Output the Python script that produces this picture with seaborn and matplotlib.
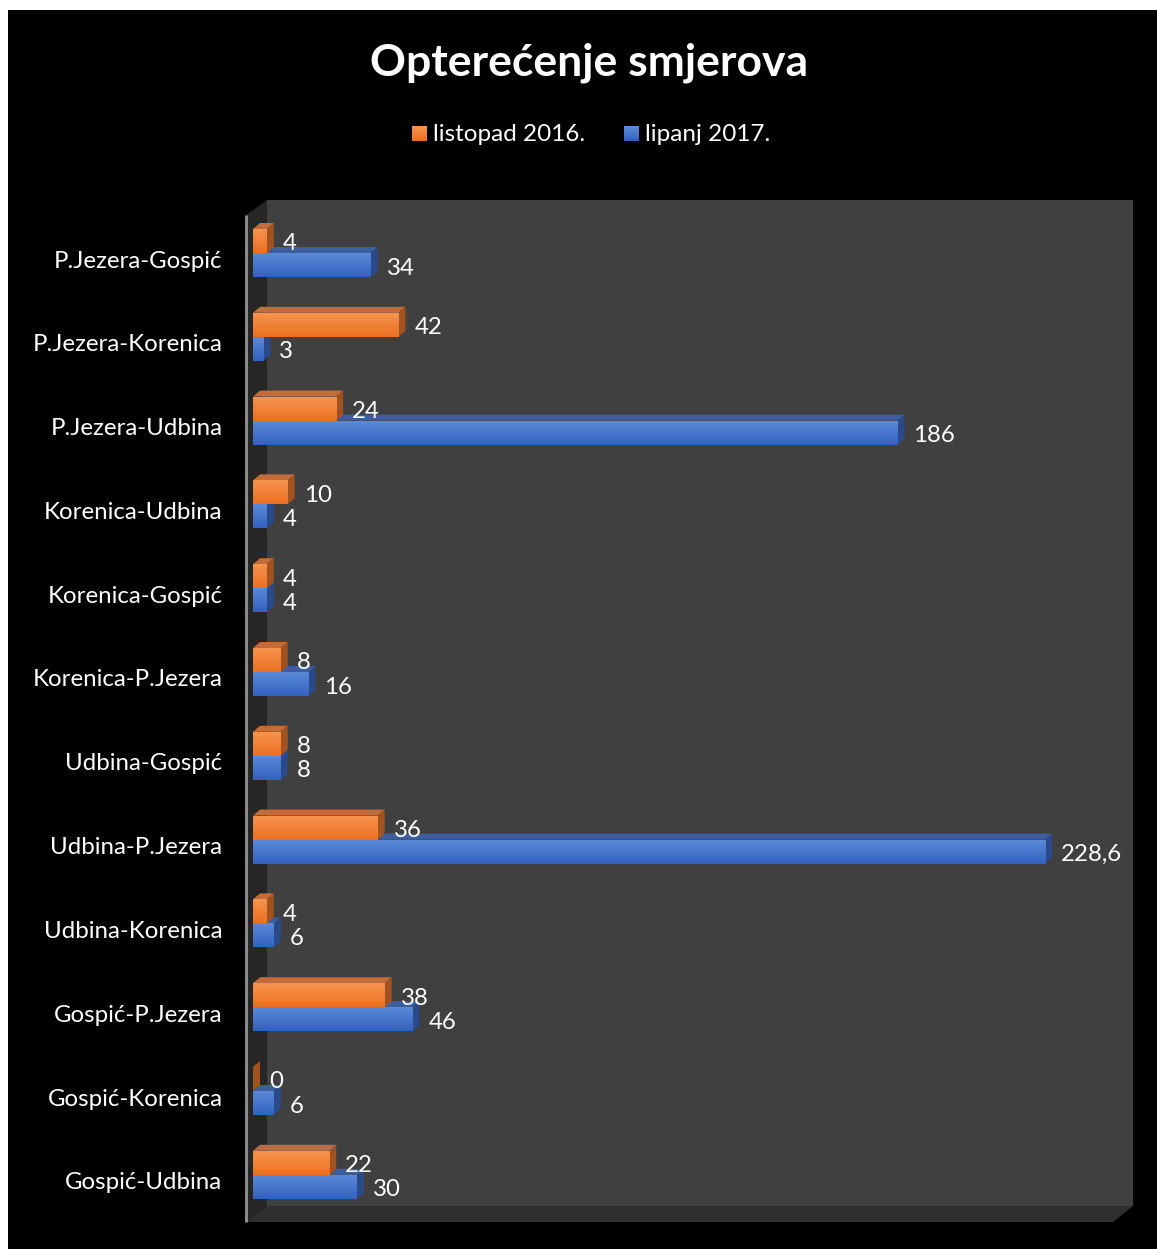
import numpy as np
import pandas as pd
import matplotlib
matplotlib.use("Agg")
import matplotlib.pyplot as plt
import seaborn as sns
from matplotlib.patches import Polygon, Rectangle
from matplotlib.colors import LinearSegmentedColormap

# ---------------- data ----------------
categories = ["P.Jezera-Gospić", "P.Jezera-Korenica", "P.Jezera-Udbina",
              "Korenica-Udbina", "Korenica-Gospić", "Korenica-P.Jezera",
              "Udbina-Gospić", "Udbina-P.Jezera", "Udbina-Korenica",
              "Gospić-P.Jezera", "Gospić-Korenica", "Gospić-Udbina"]
series_names = ["listopad 2016.", "lipanj 2017."]
listopad_2016 = [4, 42, 24, 10, 4, 8, 8, 36, 4, 38, 0, 22]
lipanj_2017 = [34, 3, 186, 4, 4, 16, 8, 228.6, 6, 46, 6, 30]
title = "Opterećenje smjerova"

df = pd.DataFrame({
    "route": categories * 2,
    "value": listopad_2016 + lipanj_2017,
    "series": [series_names[0]] * len(categories) + [series_names[1]] * len(categories),
})

# ---------------- style ----------------
W, H = 1157, 1249
DPI = 100
sns.set_theme(style="white")
plt.rcParams["font.family"] = ["Lato", "DejaVu Sans"]

ORANGE = "#ED7D31"
BLUE = "#4472C4"
face_cols = {
    0: dict(light="#F6954F", dark="#EC7022", top="#C26C3C", side="#A2521F"),
    1: dict(light="#5D8BD9", dark="#3262BF", top="#3D5E9E", side="#2B4A8C"),
}
LBL_FS = 17.3

fig = plt.figure(figsize=(W / DPI, H / DPI), dpi=DPI)
fig.patch.set_facecolor("white")

# background axes in pixel coordinates
bg = fig.add_axes([0, 0, 1, 1], zorder=0)
bg.set_xlim(0, W)
bg.set_ylim(H, 0)
bg.axis("off")
bg.add_patch(Rectangle((8, 10), W - 8, H - 10, facecolor="black", edgecolor="none"))
# 3D walls
bg.add_patch(Polygon([(267, 200), (1133, 200), (1133, 1206), (267, 1206)],
                     closed=True, facecolor="#404040", edgecolor="none"))
bg.add_patch(Polygon([(246, 215), (267, 200), (267, 1206), (246, 1222)],
                     closed=True, facecolor="#262626", edgecolor="none"))
bg.add_patch(Polygon([(246, 1222), (267, 1206), (1133, 1206), (1113, 1222)],
                     closed=True, facecolor="#2F2F2F", edgecolor="none"))
bg.plot([245.5, 245.5], [215, 1222], color="#8A8A8A", lw=2.2, solid_capstyle="butt")

# title
bg.text(589, 63, title, color="white", fontsize=32, fontweight="bold",
        ha="center", va="center")

# legend (manual)
leg_items = [(412, series_names[0], 0), (624, series_names[1], 1)]
for x0, name, k in leg_items:
    c = face_cols[k]
    grad = np.linspace(0, 1, 32).reshape(-1, 1)
    cm = LinearSegmentedColormap.from_list("g", [c["light"], c["dark"]])
    bg.imshow(grad, cmap=cm, extent=[x0, x0 + 15, 141, 126], aspect="auto",
              origin="upper", interpolation="bilinear", zorder=2)
    bg.text(x0 + 21, 134, name, color="white", fontsize=17.5, ha="left", va="center")
bg.set_xlim(0, W)
bg.set_ylim(H, 0)

# ---------------- main axes (front plane) ----------------
L, R, T, B = 246, 1113, 215, 1222
ax = fig.add_axes([L / W, 1 - B / H, (R - L) / W, (B - T) / H], zorder=1)
ax.patch.set_alpha(0)

px_per_unit = 3.465
px_per_cat = 83.8
x0_px = 253
c0_px = 253
xlim = ((L - x0_px) / px_per_unit, (R - x0_px) / px_per_unit)
ylim = ((B - c0_px) / px_per_cat, (T - c0_px) / px_per_cat)

sns.barplot(data=df, y="route", x="value", hue="series", order=categories,
            hue_order=series_names, palette=[ORANGE, BLUE], orient="h",
            width=0.573, ax=ax, legend=False, saturation=1)

n = len(categories)
patches = list(ax.patches)
dx = 7 / px_per_unit
dy = -6 / px_per_cat

for k in range(2):
    c = face_cols[k]
    cm = LinearSegmentedColormap.from_list("g%d" % k, [c["light"], c["dark"]])
    base_z = 2 + (1 - k) * 3
    for p in patches[k * n:(k + 1) * n]:
        x, y, w, h = p.get_x(), p.get_y(), p.get_width(), p.get_height()
        p.set_zorder(base_z + 1)
        p.set_edgecolor("none")
        # top face
        ax.add_patch(Polygon([(x, y), (x + w, y), (x + w + dx, y + dy), (x + dx, y + dy)],
                             closed=True, facecolor=c["top"], edgecolor="none", zorder=base_z))
        # side face
        ax.add_patch(Polygon([(x + w, y), (x + w + dx, y + dy), (x + w + dx, y + h + dy), (x + w, y + h)],
                             closed=True, facecolor=c["side"], edgecolor="none", zorder=base_z))
        if w > 0:
            grad = np.linspace(0, 1, 64).reshape(-1, 1)
            im = ax.imshow(grad, cmap=cm, extent=[x, x + w, y + h, y], aspect="auto",
                           origin="upper", interpolation="bilinear", zorder=base_z + 1.5)
            im.set_clip_path(p)
        val = w
        txt = f"{val:g}".replace(".", ",")
        ax.annotate(txt, xy=(x + w, y + h / 2), xytext=(16 * 0.72, -3 * 0.72),
                    textcoords="offset points", ha="left", va="center",
                    color="white", fontsize=LBL_FS, zorder=10)

# category labels
for i, cat in enumerate(categories):
    ax.annotate(cat, xy=(0, i), xycoords=("axes fraction", "data"),
                xytext=(-23.5 * 0.72, -8 * 0.72), textcoords="offset points",
                ha="right", va="center", color="white", fontsize=LBL_FS)

ax.set_xlim(*xlim)
ax.set_ylim(*ylim)
ax.set_xticks([])
ax.set_yticks([])
ax.set_xlabel("")
ax.set_ylabel("")
for s in ax.spines.values():
    s.set_visible(False)

fig.savefig("out.png", dpi=DPI)
